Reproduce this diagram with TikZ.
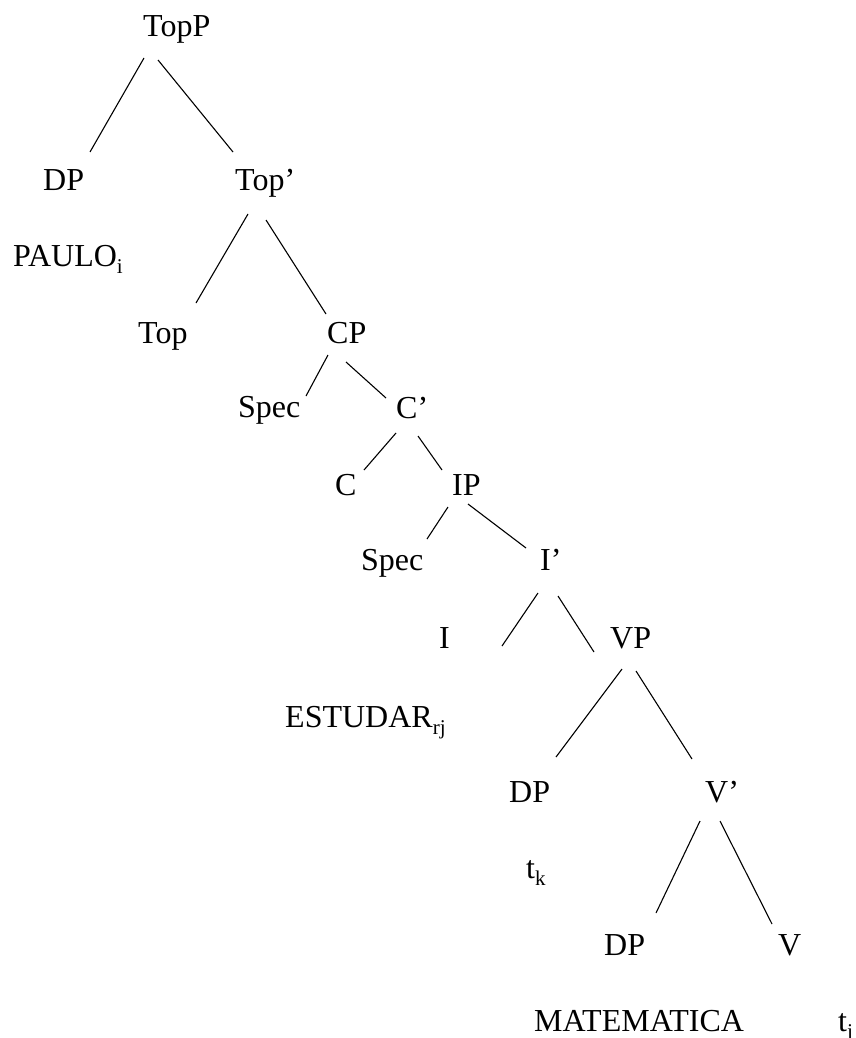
\documentclass[tikz,border=0pt]{standalone}
\usepackage{fontspec}
\setmainfont{Liberation Serif}
\newcommand\dn[1]{\raisebox{-0.22em}{\fontsize{21}{21}\selectfont #1}}
\begin{document}
\begin{tikzpicture}[x=1pt,y=-1pt,
  lab/.style={anchor=base west,inner sep=0pt,font=\fontsize{32}{38}\selectfont},
  branch/.style={line width=1.1pt}]
\useasboundingbox (0,0) rectangle (856,1038);
% labels
\node[lab] (topp) at (143,37) {TopP};
\node[lab] (dp1) at (43,190) {DP};
\node[lab] (topbar) at (235,190) {Top’};
\node[lab] (paulo) at (13,266) {PAULO\dn{i}};
\node[lab] (top) at (138,343) {Top};
\node[lab] (cp) at (327,343) {CP};
\node[lab] (spec1) at (238,417) {Spec};
\node[lab] (cbar) at (396,418) {C’};
\node[lab] (c) at (335,495) {C};
\node[lab] (ip) at (452,495) {IP};
\node[lab] (spec2) at (361,570) {Spec};
\node[lab] (ibar) at (540,570) {I’};
\node[lab] (i) at (439,648) {I};
\node[lab] (vp) at (610,648) {VP};
\node[lab] (estudar) at (285,727) {ESTUDAR\dn{rj}};
\node[lab] (dp2) at (509,802) {DP};
\node[lab] (vbar) at (705,802) {V’};
\node[lab] (tk) at (526,878) {t\dn{k}};
\node[lab] (dp3) at (604,955) {DP};
\node[lab] (v) at (778,955) {V};
\node[lab] (mat) at (534,1031) {MATEMATICA};
\node[lab] (tj) at (838,1031) {t\dn{j}};
% branch end points
\coordinate (a1) at (144,58);  \coordinate (b1) at (90,152);
\coordinate (a2) at (158,60);  \coordinate (b2) at (233,152);
\coordinate (a3) at (248,214); \coordinate (b3) at (196,303);
\coordinate (a4) at (266,220); \coordinate (b4) at (326,314);
\coordinate (a5) at (328,355); \coordinate (b5) at (306,396);
\coordinate (a6) at (346,362); \coordinate (b6) at (386,398);
\coordinate (a7) at (396,433); \coordinate (b7) at (364,470);
\coordinate (a8) at (418,436); \coordinate (b8) at (442,470);
\coordinate (a9) at (448,507); \coordinate (b9) at (427,539);
\coordinate (a10) at (468,504); \coordinate (b10) at (526,548);
\coordinate (a11) at (538,593); \coordinate (b11) at (502,646);
\coordinate (a12) at (558,596); \coordinate (b12) at (594,652);
\coordinate (a13) at (622,669); \coordinate (b13) at (556,757);
\coordinate (a14) at (636,671); \coordinate (b14) at (692,759);
\coordinate (a15) at (700,821); \coordinate (b15) at (656,913);
\coordinate (a16) at (720,821); \coordinate (b16) at (772,924);
\foreach \k in {1,...,16} {\draw[branch] (a\k) -- (b\k);}
\end{tikzpicture}
\end{document}
